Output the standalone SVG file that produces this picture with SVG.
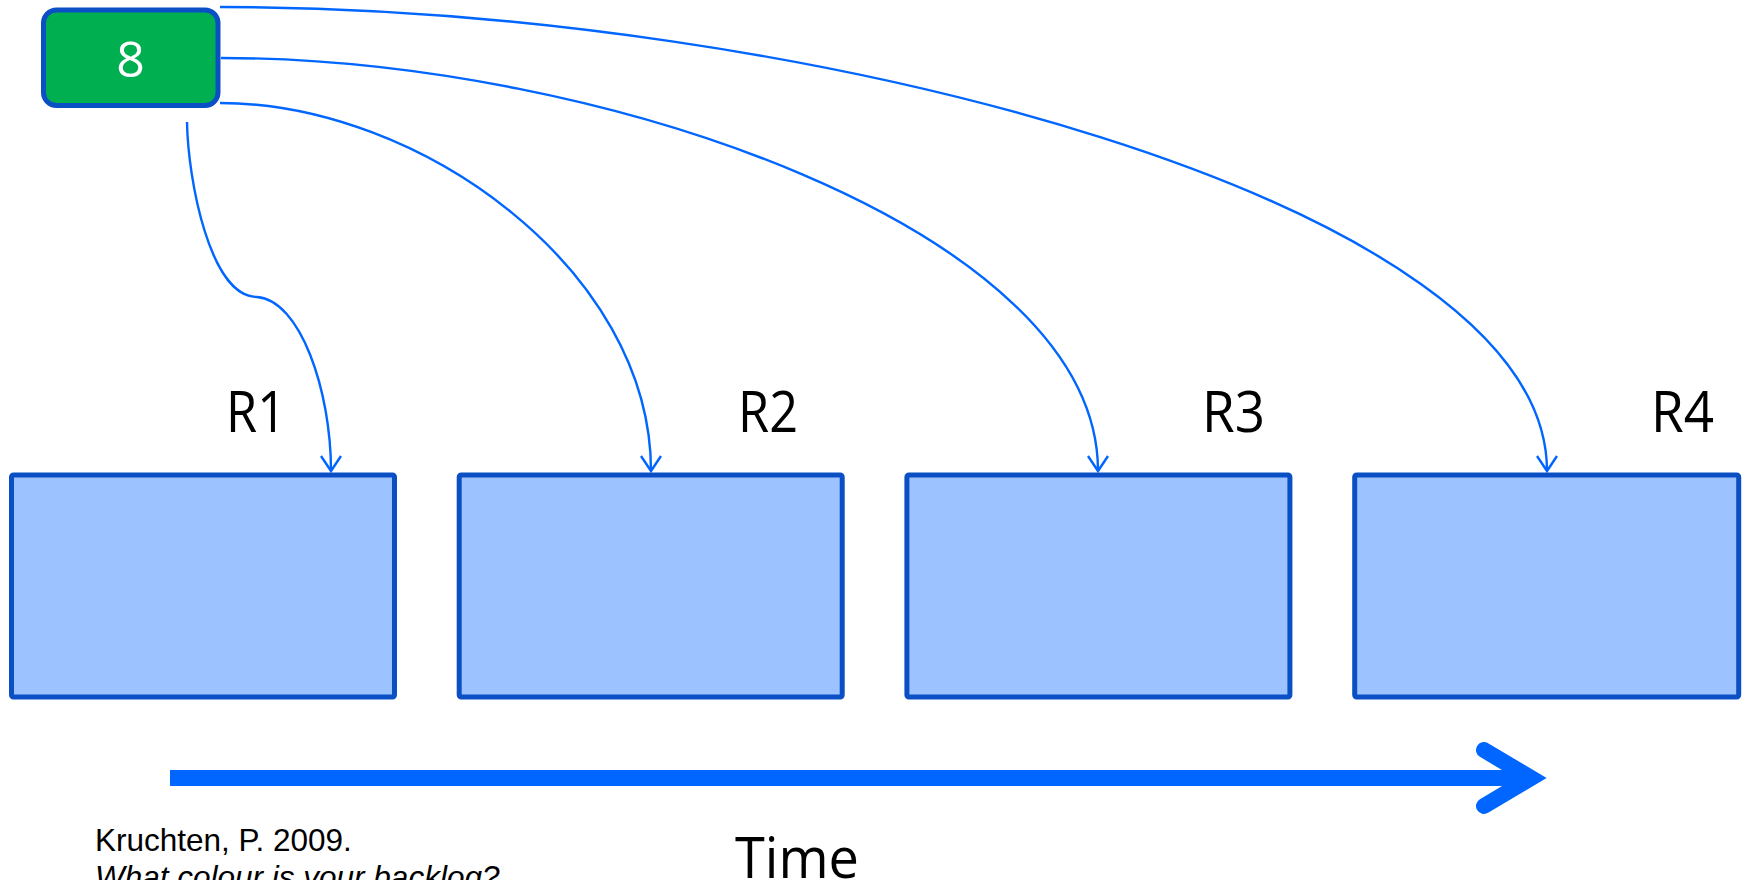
<svg xmlns="http://www.w3.org/2000/svg" width="1745" height="880" viewBox="0 0 1745 880">
<style>
.rel{fill:#9CC3FF;stroke:#0A50C4;stroke-width:5}
.lbl{font-family:"Open Sans","Noto Sans",sans-serif;font-size:57px;fill:#000}
.con{fill:none;stroke:#0066FF;stroke-width:2.4}
.cite{font-family:"Liberation Sans",Arial,sans-serif;font-size:31.5px;fill:#000}
</style>
<defs>
<marker id="vhead" markerUnits="userSpaceOnUse" markerWidth="30" markerHeight="30" viewBox="-20 -15 30 30" refX="0" refY="0" orient="auto">
<path d="M-15,-10 L0,0 L-15,10" fill="none" stroke="#0066FF" stroke-width="2.4"/>
</marker>
</defs>
<rect width="1745" height="880" fill="#fff"/>
<g id="connectors">
<path class="con" d="M187,122 C188,180 210,297 257,297 C300,300 331,390 331,471" marker-end="url(#vhead)"/>
<path class="con" d="M220,103 C420,103 651,270 651,471" marker-end="url(#vhead)"/>
<path class="con" d="M221,58 C600,58 1098,230 1098,471" marker-end="url(#vhead)"/>
<path class="con" d="M220,7 C800,7 1547,200 1547,471" marker-end="url(#vhead)"/>
</g>
<g id="node-8">
<rect x="43.5" y="10" width="174.5" height="95.5" rx="13" fill="#00B050" stroke="#0A50C4" stroke-width="5"/>
<text x="130.5" y="77" text-anchor="middle" font-family="'Open Sans','Noto Sans',sans-serif" font-size="50" fill="#fff">8</text>
</g>
<g id="R1">
<rect class="rel" x="11.5" y="475" width="383" height="222" rx="2"/>
<text class="lbl" x="226" y="432" textLength="60" lengthAdjust="spacingAndGlyphs">R1</text>
</g>
<g id="R2">
<rect class="rel" x="459.2" y="475" width="383" height="222" rx="2"/>
<text class="lbl" x="738" y="432" textLength="60" lengthAdjust="spacingAndGlyphs">R2</text>
</g>
<g id="R3">
<rect class="rel" x="906.9" y="475" width="383" height="222" rx="2"/>
<text class="lbl" x="1202" y="432" textLength="63" lengthAdjust="spacingAndGlyphs">R3</text>
</g>
<g id="R4">
<rect class="rel" x="1354.7" y="475" width="384" height="222" rx="2"/>
<text class="lbl" x="1651" y="432" textLength="63" lengthAdjust="spacingAndGlyphs">R4</text>
</g>
<g id="time-axis">
<line x1="170" y1="778" x2="1530" y2="778" stroke="#0066FF" stroke-width="16"/>
<polyline points="1484,750 1531,778 1484,806" fill="none" stroke="#0066FF" stroke-width="16" stroke-linecap="round" stroke-linejoin="miter"/>
<text class="lbl" x="735" y="878" textLength="124" lengthAdjust="spacingAndGlyphs">Time</text>
</g>
<g id="citation">
<text class="cite" x="95" y="851">Kruchten, P. 2009.</text>
<text class="cite" x="95" y="888" font-style="italic">What colour is your backlog?</text>
</g>
</svg>
